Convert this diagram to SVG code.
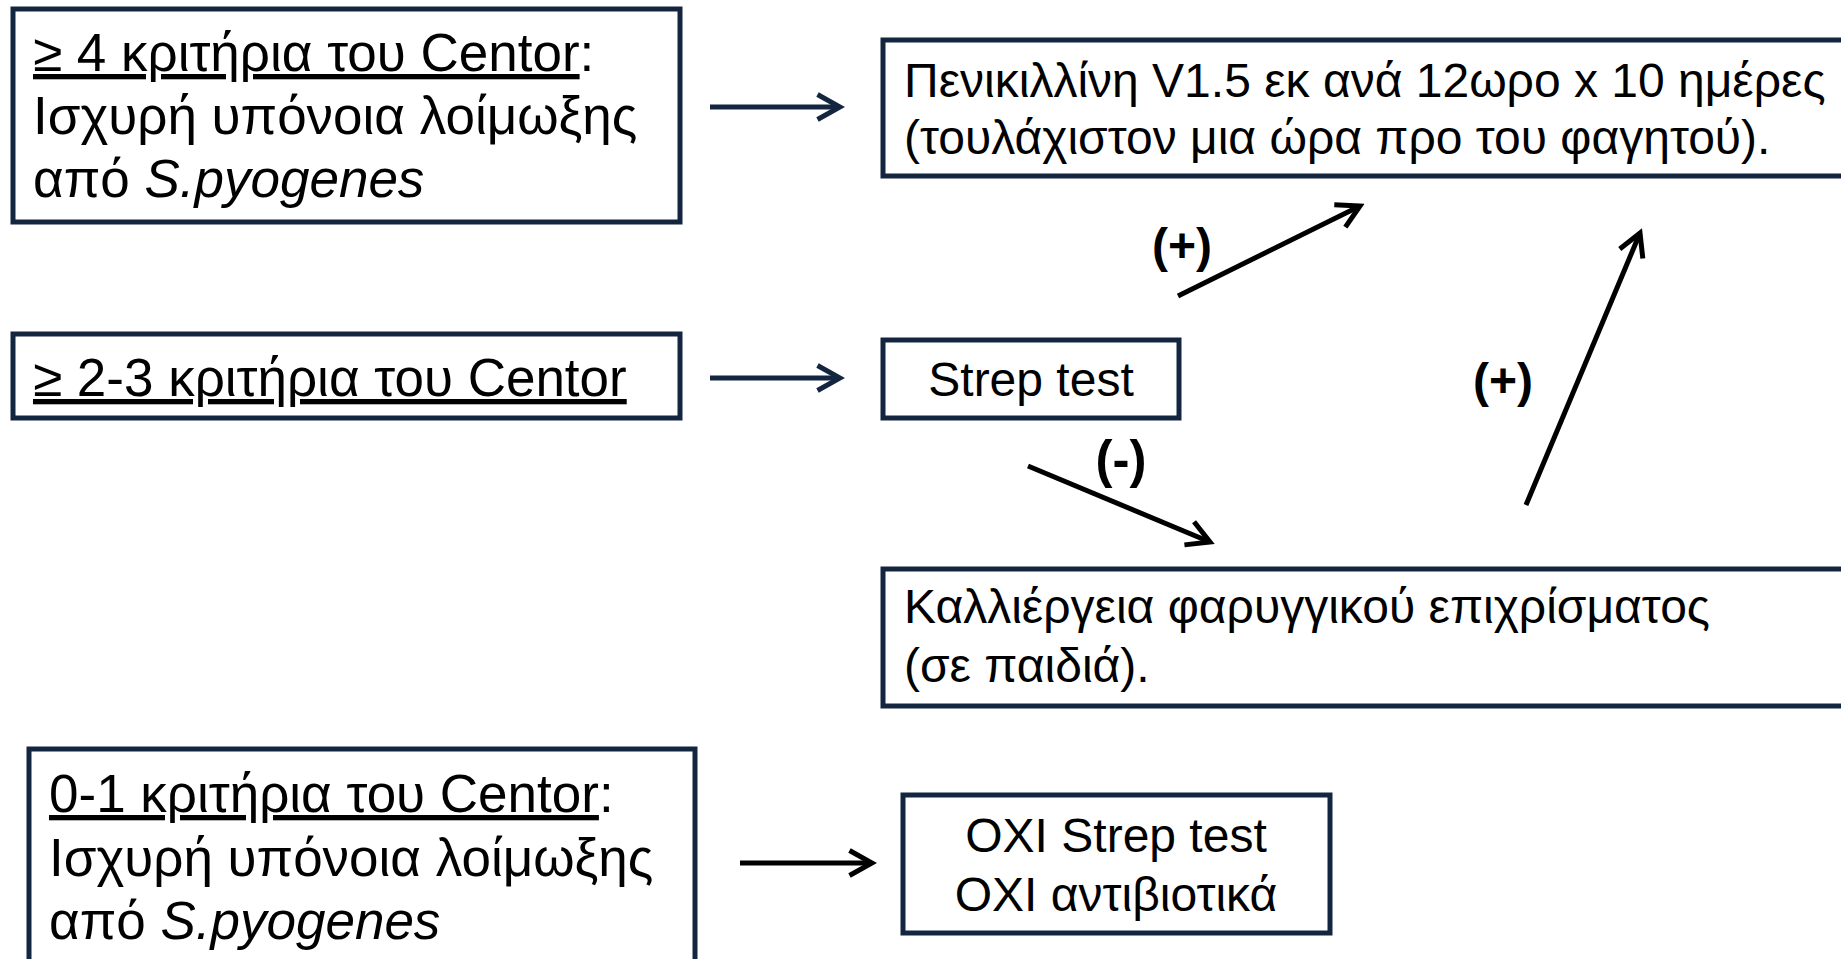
<svg xmlns="http://www.w3.org/2000/svg" width="1841" height="959" viewBox="0 0 1841 959">
<defs>
<style>
.box{fill:#ffffff;stroke:#14263f;stroke-width:5}
.t{font-family:"Liberation Sans",Arial,sans-serif;font-size:48px;fill:#000}
.tl{font-family:"Liberation Sans",Arial,sans-serif;font-size:53px;fill:#000}
.u{text-decoration:underline}
.i{font-style:italic}
.lbl{font-family:"Liberation Sans",Arial,sans-serif;font-size:48px;font-weight:bold;fill:#000;text-anchor:middle}
.c{stroke:#000;stroke-width:5;fill:none;marker-end:url(#ah)}
.cn{stroke:#14263f;stroke-width:5;fill:none;marker-end:url(#ahn)}
</style>
<marker id="ah" viewBox="0 0 12 12" refX="10" refY="6" markerWidth="6" markerHeight="6" orient="auto" markerUnits="strokeWidth">
<path d="M1,1 L10,6 L1,11" fill="none" stroke="#000" stroke-width="2"/>
</marker>
<marker id="ahn" viewBox="0 0 12 12" refX="10" refY="6" markerWidth="6" markerHeight="6" orient="auto" markerUnits="strokeWidth">
<path d="M1,1 L10,6 L1,11" fill="none" stroke="#14263f" stroke-width="2"/>
</marker>
</defs>
<rect width="1841" height="959" fill="#fff"/>
<g id="n1">
<rect class="box" x="13" y="9" width="667" height="213"/>
<text class="tl" x="33" y="71"><tspan class="u">≥ 4 κριτήρια του Centor</tspan>:</text>
<text class="tl" x="33" y="134">Ισχυρή υπόνοια λοίμωξης</text>
<text class="tl" x="33" y="197">από <tspan class="i">S.pyogenes</tspan></text>
</g>
<g id="n2">
<rect class="box" x="883" y="40" width="970" height="136"/>
<text class="t" x="904" y="97">Πενικιλλίνη V1.5 εκ ανά 12ωρο x 10 ημέρες</text>
<text class="t" x="904" y="154">(τουλάχιστον μια ώρα προ του φαγητού).</text>
</g>
<g id="n3">
<rect class="box" x="13" y="334" width="667" height="84"/>
<text class="tl" x="33" y="396"><tspan class="u">≥ 2-3 κριτήρια του Centor</tspan></text>
</g>
<g id="n4">
<rect class="box" x="883" y="340" width="296" height="78"/>
<text class="t" x="1031" y="396" text-anchor="middle">Strep test</text>
</g>
<g id="n5">
<rect class="box" x="883" y="569" width="970" height="137"/>
<text class="t" x="904" y="623">Καλλιέργεια φαρυγγικού επιχρίσματος</text>
<text class="t" x="904" y="682">(σε παιδιά).</text>
</g>
<g id="n6">
<rect class="box" x="29" y="749" width="666" height="220"/>
<text class="tl" x="49" y="812"><tspan class="u">0-1 κριτήρια του Centor</tspan>:</text>
<text class="tl" x="49" y="876">Ισχυρή υπόνοια λοίμωξης</text>
<text class="tl" x="49" y="939">από <tspan class="i">S.pyogenes</tspan></text>
</g>
<g id="n7">
<rect class="box" x="903" y="795" width="427" height="138"/>
<text class="t" x="1116" y="852" text-anchor="middle">OXI Strep test</text>
<text class="t" x="1116" y="911" text-anchor="middle">OXI αντιβιοτικά</text>
</g>
<g id="connectors">
<line class="cn" x1="710" y1="107" x2="840" y2="107"/>
<line class="cn" x1="710" y1="378" x2="840" y2="378"/>
<line class="c" x1="740" y1="863" x2="872" y2="863"/>
<line class="c" x1="1178" y1="296" x2="1360" y2="206"/>
<line class="c" x1="1028" y1="466" x2="1210" y2="542"/>
<line class="c" x1="1526" y1="505" x2="1640" y2="233"/>
<text class="lbl" x="1182" y="262">(+)</text>
<text class="lbl" x="1503" y="397">(+)</text>
<text class="lbl" x="1121" y="477" style="font-size:51px">(-)</text>
</g>
</svg>
